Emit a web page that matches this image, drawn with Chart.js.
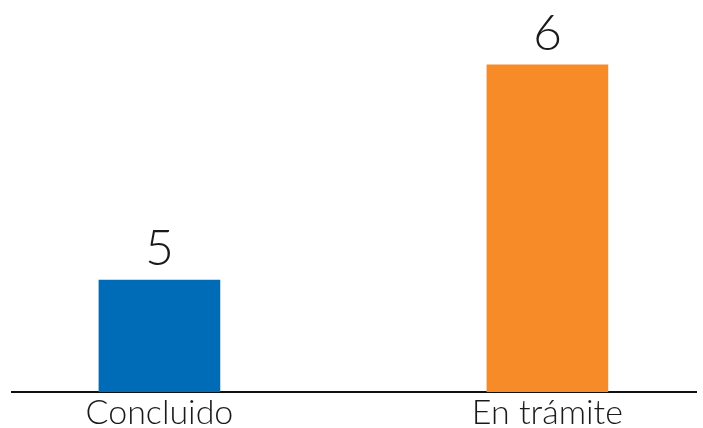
<!DOCTYPE html>
<html>
<head>
<meta charset="utf-8">
<script src="https://cdn.jsdelivr.net/npm/chart.js@4/dist/chart.umd.min.js"></script>
<style>
  html, body { margin: 0; padding: 0; background: #fff; }
  #wrap { width: 703px; height: 428px; }
</style>
</head>
<body>
<div id="wrap"><canvas id="c" width="703" height="428"></canvas></div>
<script>
// Case status counts
const categories = ['Concluido', 'En trámite'];
const counts = [5, 6];
const barColors = ['#006cb7', '#f68b28'];

const FONT = "Lato, 'Open Sans', sans-serif";

// Writes each bar's value just above it
const valueLabels = {
  id: 'valueLabels',
  afterDatasetsDraw(chart) {
    const { ctx } = chart;
    const meta = chart.getDatasetMeta(0);
    ctx.save();
    ctx.font = `300 50px ${FONT}`;
    ctx.fillStyle = '#1a1a1a';
    ctx.textAlign = 'center';
    ctx.textBaseline = 'alphabetic';
    meta.data.forEach((bar, i) => {
      ctx.fillText(String(counts[i]), bar.x, bar.y - 15);
    });
    ctx.restore();
  }
};

new Chart(document.getElementById('c'), {
  type: 'bar',
  data: {
    datasets: [{
      data: counts.map((v, i) => ({ x: i, y: v })),
      backgroundColor: barColors,
      barThickness: 121,
      borderWidth: 0
    }]
  },
  options: {
    responsive: false,
    animation: false,
    layout: { padding: { left: 12, right: 7, top: 0, bottom: 0 } },
    plugins: { legend: { display: false }, tooltip: { enabled: false } },
    scales: {
      x: {
        type: 'linear',
        offset: false,
        min: -0.38,
        max: 1.383,
        grid: { display: false, drawTicks: false, offset: false },
        border: { display: true, color: '#111', width: 2 },
        afterBuildTicks(scale) {
          scale.ticks = categories.map((_, i) => ({ value: i }));
        },
        afterFit(scale) { scale.height = 36; },
        ticks: {
          autoSkip: false,
          padding: 1,
          maxRotation: 0,
          color: '#1a1a1a',
          font: { family: FONT, size: 34, weight: 300 },
          callback: (v) => categories[v] ?? ''
        }
      },
      y: {
        display: false,
        min: 4.479,
        max: 6.302
      }
    }
  },
  plugins: [valueLabels]
});
</script>
</body>
</html>
